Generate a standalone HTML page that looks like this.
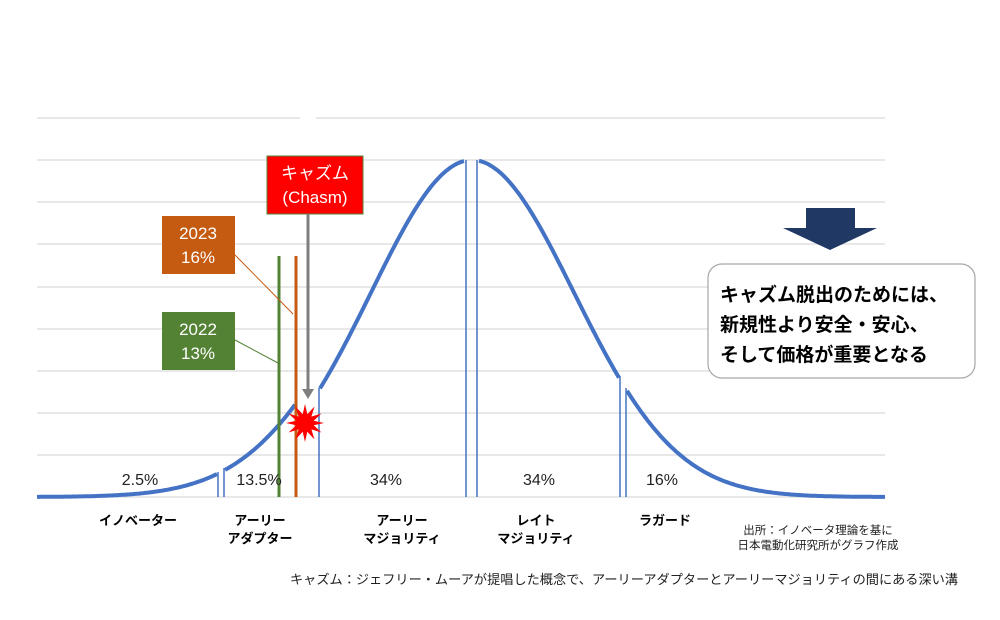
<!DOCTYPE html>
<html><head><meta charset="utf-8"><style>
body{margin:0;background:#fff;}
svg{display:block;font-family:"Liberation Sans","Noto Sans CJK JP",sans-serif;}
</style></head><body>
<svg id="s" width="1000" height="620" viewBox="0 0 1000 620" xmlns="http://www.w3.org/2000/svg">
<g stroke="#d9d9d9" stroke-width="1.3">
<line x1="37" y1="118" x2="300" y2="118"/><line x1="316" y1="118" x2="885" y2="118"/>
<line x1="37" y1="160" x2="885" y2="160"/>
<line x1="37" y1="202" x2="885" y2="202"/>
<line x1="37" y1="244" x2="885" y2="244"/>
<line x1="37" y1="287" x2="885" y2="287"/>
<line x1="37" y1="329" x2="885" y2="329"/>
<line x1="37" y1="371" x2="885" y2="371"/>
<line x1="37" y1="413" x2="885" y2="413"/>
<line x1="37" y1="455" x2="885" y2="455"/>
<line x1="37" y1="497" x2="885" y2="497"/>
</g>
<g id="curve" fill="none" stroke="#4472c4" stroke-width="4"></g>
<g stroke="#4472c4" stroke-width="1.5">
<line x1="218" y1="472" x2="218" y2="497"/><line x1="224" y1="468" x2="224" y2="497"/>
<line x1="319" y1="388" x2="319" y2="497"/>
<line x1="466" y1="160" x2="466" y2="497"/><line x1="477" y1="160" x2="477" y2="497"/>
<line x1="620" y1="376" x2="620" y2="497"/><line x1="626" y1="388" x2="626" y2="497"/>
</g>
<line x1="279" y1="256" x2="279" y2="497" stroke="#548235" stroke-width="3"/>
<line x1="296" y1="256" x2="296" y2="497" stroke="#c55a11" stroke-width="3"/>
<line x1="235" y1="255" x2="293" y2="314" stroke="#c55a11" stroke-width="1"/>
<line x1="235" y1="340" x2="278" y2="363" stroke="#548235" stroke-width="1"/>
<rect x="162" y="216" width="73" height="58" fill="#c55a11"/>
<text x="198" y="239" font-size="17" fill="#fff" text-anchor="middle">2023</text>
<text x="198" y="263" font-size="17" fill="#fff" text-anchor="middle">16%</text>
<rect x="162" y="312" width="73" height="58" fill="#548235"/>
<text x="198" y="335" font-size="17" fill="#fff" text-anchor="middle">2022</text>
<text x="198" y="359" font-size="17" fill="#fff" text-anchor="middle">13%</text>
<rect x="267" y="156" width="96" height="58" fill="#ff0000" stroke="#548235" stroke-width="1"/>
<text x="315" y="179" font-size="17" fill="#fff" text-anchor="middle">キャズム</text>
<text x="315" y="203" font-size="17" fill="#fff" text-anchor="middle">(Chasm)</text>
<line x1="308" y1="214" x2="308" y2="390" stroke="#7f7f7f" stroke-width="3"/>
<polygon points="302,389 314,389 308,399" fill="#7f7f7f"/>
<polygon id="star" fill="#ff0000"/>
<polygon points="806,208 855,208 855,228 877,228 830,250 783,228 806,228" fill="#203864"/>
<rect x="708" y="264" width="267" height="114" rx="14" fill="#fff" stroke="#a6a6a6" stroke-width="1.2"/>
<g font-size="19" font-weight="bold" fill="#000">
<text x="720" y="301">キャズム脱出のためには、</text>
<text x="720" y="331">新規性より安全・安心、</text>
<text x="720" y="361">そして価格が重要となる</text>
</g>
<g font-size="16" fill="#222" text-anchor="middle">
<text x="140" y="485">2.5%</text><text x="259" y="485">13.5%</text>
<text x="386" y="485">34%</text><text x="539" y="485">34%</text><text x="662" y="485">16%</text>
</g>
<g font-size="13" font-weight="bold" fill="#000" text-anchor="middle">
<text x="138" y="525">イノベーター</text>
<text x="260" y="525">アーリー</text><text x="260" y="543">アダプター</text>
<text x="402" y="525">アーリー</text><text x="402" y="543">マジョリティ</text>
<text x="536" y="525">レイト</text><text x="536" y="543">マジョリティ</text>
<text x="665" y="525">ラガード</text>
</g>
<g font-size="11.5" fill="#222" text-anchor="middle">
<text x="818" y="534">出所：イノベータ理論を基に</text>
<text x="818" y="549">日本電動化研究所がグラフ作成</text>
</g>
<text x="958" y="584" font-size="13" fill="#222" text-anchor="end" textLength="668" lengthAdjust="spacingAndGlyphs">キャズム：ジェフリー・ムーアが提唱した概念で、アーリーアダプターとアーリーマジョリティの間にある深い溝</text>
</svg>
<script>
function y(x){var m=472,s=x<m?(x>310?101:110):102;return 497-337*Math.exp(-(x-m)*(x-m)/(2*s*s));}
function seg(a,b){var d="";for(var x=a;x<=b;x+=2){d+=(x==a?"M":"L")+x+","+y(x).toFixed(1);}return '<path d="'+d+'"/>';}
document.getElementById("curve").innerHTML=seg(37,217)+seg(225,295)+seg(320,465)+seg(479,619)+seg(627,885);
var p=[],cx=305,cy=423;for(var i=0;i<24;i++){var r=i%2?9:19,a=i*Math.PI/12;p.push((cx+r*Math.cos(a)).toFixed(1)+","+(cy+r*Math.sin(a)).toFixed(1));}
document.getElementById("star").setAttribute("points",p.join(" "));
</script>
</body></html>
